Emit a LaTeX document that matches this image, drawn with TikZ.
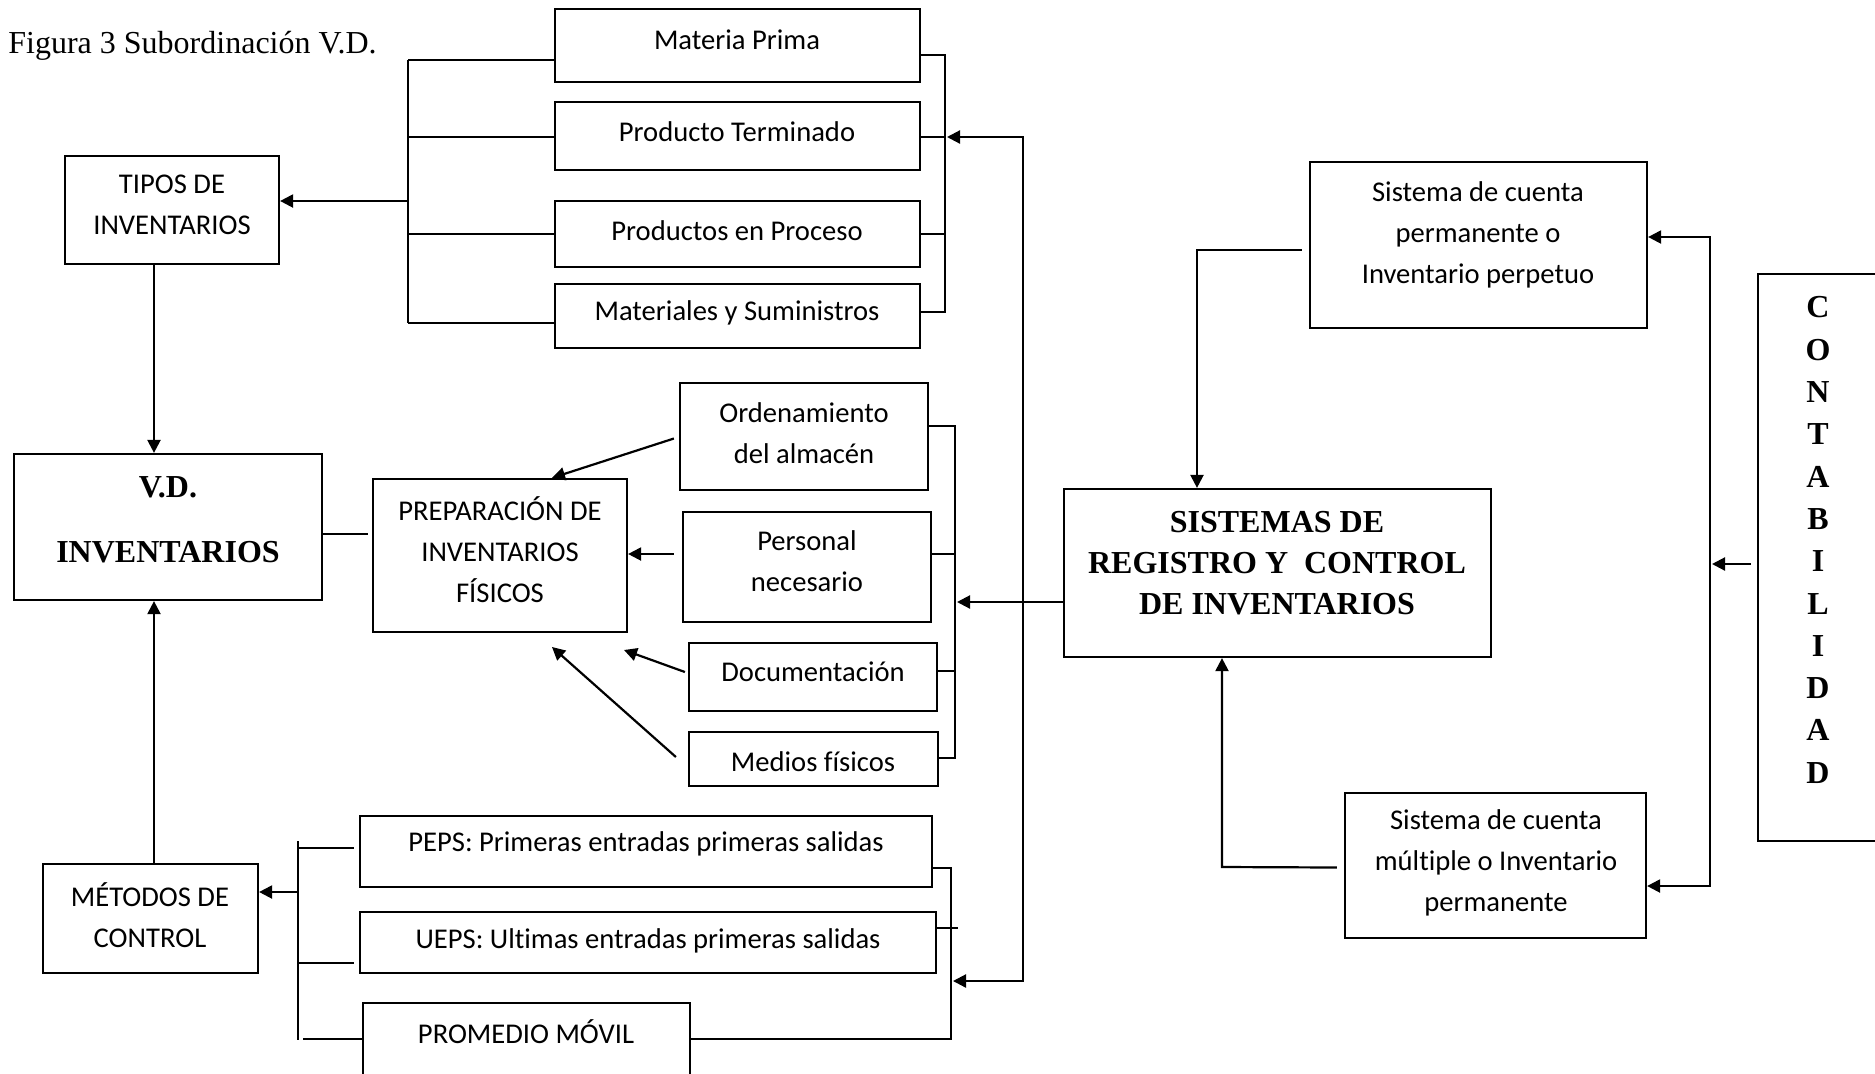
\documentclass[tikz,border=0pt]{standalone}
\usepackage{fontspec}
\setmainfont{Liberation Serif}
\newfontfamily\calfont[Ligatures={NoCommon}]{Carlito}
\usetikzlibrary{arrows.meta,calc,fit}
\begin{document}
\begin{tikzpicture}[x=0.5pt,y=-0.5pt,
  box/.style={draw, line width=1.1pt, inner sep=0pt},
  lbl/.style={font=\calfont\fontsize{14.3}{20.5}\selectfont, align=center, inner sep=0pt},
  blbl/.style={font=\bfseries\fontsize{16}{20.5}\selectfont, align=center, inner sep=0pt},
  ln/.style={line width=1.1pt},
  arr/.style={line width=1.1pt, -{Triangle[length=6.5pt,width=6.5pt]}},
]
\useasboundingbox (0,0) rectangle (1875,1073);
\clip (0,0) rectangle (1875,1073);

% title
\node[anchor=base west, font=\fontsize{16}{19}\selectfont, inner sep=0pt] (title) at (8,53) {Figura 3 Subordinación V.D.};

% tipos de inventarios
\node[box, fit={(555,9) (920,82)}] (mp) {};
\node[lbl] (mpt) at (737,40) {Materia Prima};
\node[box, fit={(555,102) (920,170)}] (pt) {};
\node[lbl] (ptt) at (737,132) {Producto Terminado};
\node[box, fit={(555,201) (920,267)}] (pp) {};
\node[lbl] (ppt) at (737,231) {Productos en Proceso};
\node[box, fit={(555,284) (920,348)}] (ms) {};
\node[lbl] (mst) at (737,313) {Materiales y Suministros};
\node[box, fit={(65,156) (279,264)}] (tipos) {};
\node[lbl] (tipost) at (172,205) {TIPOS DE\\INVENTARIOS};

% V.D.
\node[box, fit={(14,454) (322,600)}] (vd) {};
\node[blbl, font=\bfseries\fontsize{16}{32.5}\selectfont] (vdt) at (168,520) {V.D.\\INVENTARIOS};

% preparacion
\node[box, fit={(373,479) (627,632)}] (prep) {};
\node[lbl] (prept) at (500,550) {PREPARACIÓN DE\\INVENTARIOS\\FÍSICOS};
\node[box, fit={(680,383) (928,490)}] (ord) {};
\node[lbl] (ordt) at (804,433) {Ordenamiento\\del almacén};
\node[box, fit={(683,512) (931,622)}] (pers) {};
\node[lbl] (perst) at (807,561) {Personal\\necesario};
\node[box, fit={(689,643) (937,711)}] (doc) {};
\node[lbl] (doct) at (813,672) {Documentación};
\node[box, fit={(689,732) (938,786)}] (med) {};
\node[lbl] (medt) at (813,762) {Medios físicos};

% metodos
\node[box, fit={(360,816) (932,887)}] (peps) {};
\node[lbl] (pepst) at (646,844) {PEPS: Primeras entradas primeras salidas};
\node[box, fit={(360,912) (936,973)}] (ueps) {};
\node[lbl] (uepst) at (648,941) {UEPS: Ultimas entradas primeras salidas};
\node[box, fit={(363,1003) (690,1110)}] (prom) {};
\node[lbl] (promt) at (526,1032) {PROMEDIO MÓVIL};
\node[box, fit={(43,864) (258,973)}] (met) {};
\node[lbl] (mett) at (150,915) {MÉTODOS DE\\CONTROL};

% sistemas
\node[box, fit={(1064,489) (1491,657)}] (sis) {};
\node[blbl] (sist) at (1277,563) {SISTEMAS DE\\REGISTRO Y\ \ CONTROL\\DE INVENTARIOS};
\node[box, fit={(1310,162) (1647,328)}] (perm) {};
\node[lbl] (permt) at (1478,235) {Sistema de cuenta\\permanente o\\Inventario perpetuo};
\node[box, fit={(1345,793) (1646,938)}] (mult) {};
\node[lbl] (multt) at (1496,863) {Sistema de cuenta\\múltiple o Inventario\\permanente};
\node[box, fit={(1758,274) (1920,841)}] (cont) {};
\node[blbl, font=\bfseries\fontsize{16}{21.15}\selectfont] (contt) at (1818,540) {C\\O\\N\\T\\A\\B\\I\\L\\I\\D\\A\\D};

% ---- connectors: tipos
\draw[ln] (408,60) -- (408,323);
\draw[ln] (408,60) -- (mp.west |- 0,60);
\draw[ln] (408,137) -- (pt.west |- 0,137);
\draw[ln] (408,234) -- (pp.west |- 0,234);
\draw[ln] (408,323) -- (ms.west |- 0,323);
\draw[arr] (408,201) -- (tipos.east |- 0,201);
\draw[ln] (mp.east |- 0,55) -- (945,55) -- (945,312) -- (ms.east |- 0,312);
\draw[ln] (pt.east |- 0,137) -- (945,137);
\draw[ln] (pp.east |- 0,234) -- (945,234);

% trunk from sistemas
\draw[arr] (1023,602) -- (1023,137) -- (947,137);
\draw[arr] (1023,602) -- (1023,981) -- (953,981);
\draw[arr] (sis.west |- 0,602) -- (957,602);

% preparacion cluster
\draw[ln] (ord.east |- 0,426) -- (955,426) -- (955,758) -- (med.east |- 0,758);
\draw[ln] (pers.east |- 0,554) -- (955,554);
\draw[ln] (doc.east |- 0,671) -- (955,671);
\coordinate (docend) at (624,650);
\coordinate (medend) at (552,647);
\draw[arr] ($(ord.west)+(-5,2)$) -- (prep.north -| 552,0);
\draw[arr] ($(pers.west)+(-8,-13)$) -- (prep.east |- 0,554);
\draw[arr] ($(doc.west)+(-3,-5)$) -- (docend);
\draw[arr] ($(med.west)+(-12,-2)$) -- (medend);

% V.D. links
\draw[ln] (vd.east |- 0,534) -- (368,534);
\draw[arr] (tipos.south -| 154,0) -- (vd.north -| 154,0);
\draw[arr] (met.north -| 154,0) -- (vd.south -| 154,0);

% metodos cluster
\draw[ln] (298,841) -- (298,1040);
\draw[ln] (298,848) -- (354,848);
\draw[ln] (298,963) -- (354,963);
\draw[ln] (303,1039) -- (prom.west |- 0,1039);
\draw[arr] (298,892) -- (met.east |- 0,892);
\draw[ln] (peps.east |- 0,868) -- (951,868) -- (951,1039) -- (prom.east |- 0,1039);
\draw[ln] (ueps.east |- 0,928) -- (958,928);

% right cluster
\draw[arr] ($(perm.west)+(-7,5)$) -- (1197,250) -- (sis.north -| 1197,0);
\draw[arr] ($(mult.west)+(-7,2)$) -- (1222,867) -- (sis.south -| 1222,0);
\draw[arr] (1710,564) -- (1710,237) -- (perm.east |- 0,237);
\draw[arr] (1710,564) -- (1710,886) -- (mult.east |- 0,886);
\draw[arr] ($(cont.west)+(-6,6.5)$) -- (1712,564);
\end{tikzpicture}
\end{document}
